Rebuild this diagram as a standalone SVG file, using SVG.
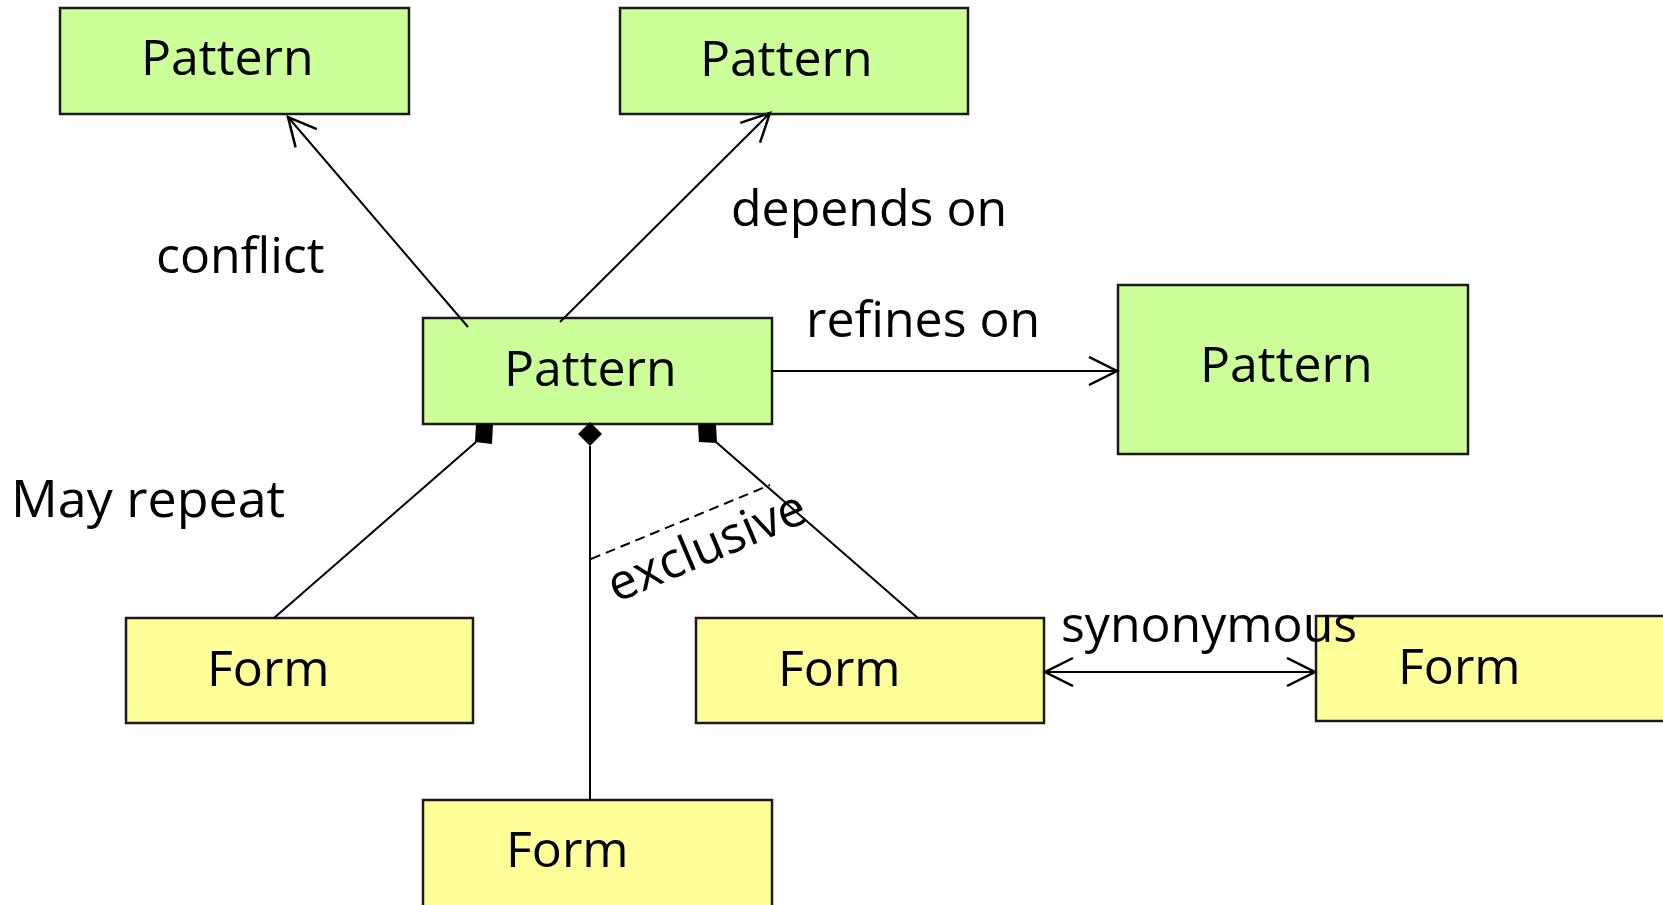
<svg xmlns="http://www.w3.org/2000/svg" width="1663" height="905" viewBox="0 0 1663 905">
<defs>
<style>
.pat{fill:#CCFF99;stroke:#1a1a1a;stroke-width:2.5}
.frm{fill:#FFFF99;stroke:#1a1a1a;stroke-width:2.5}
.t{font-family:"Open Sans","Noto Sans",sans-serif;font-size:50px;fill:#000}
.c{stroke:#000;stroke-width:2;fill:none}
</style>
<marker id="open" viewBox="0 0 32 32" refX="29" refY="15" markerWidth="32" markerHeight="32" markerUnits="userSpaceOnUse" orient="auto-start-reverse">
<path d="M1,1 L29,15 L1,29" fill="none" stroke="#000" stroke-width="2.5"/>
</marker>
</defs>
<rect width="1663" height="905" fill="#fff"/>
<g id="p1"><rect class="pat" x="60" y="8" width="349" height="106"/><text class="t" x="141" y="75">Pattern</text></g>
<g id="p2"><rect class="pat" x="620" y="8" width="348" height="106"/><text class="t" x="700" y="76">Pattern</text></g>
<g id="p3"><rect class="pat" x="423" y="318" width="349" height="106"/><text class="t" x="504" y="386">Pattern</text></g>
<g id="p4"><rect class="pat" x="1118" y="285" width="350" height="169"/><text class="t" x="1200" y="382">Pattern</text></g>
<g id="f1"><rect class="frm" x="126" y="618" width="347" height="105"/><text class="t" x="207" y="686">Form</text></g>
<g id="f2"><rect class="frm" x="696" y="618" width="348" height="105"/><text class="t" x="778" y="686">Form</text></g>
<g id="f3"><rect class="frm" x="1316" y="616" width="370" height="105"/><text class="t" x="1398" y="684">Form</text></g>
<g id="f4"><rect class="frm" x="423" y="800" width="349" height="130"/><text class="t" x="506" y="867">Form</text></g>
<g id="connectors">
<line class="c" x1="468" y1="327" x2="288" y2="117" marker-end="url(#open)"/>
<line class="c" x1="560" y1="322" x2="770" y2="113" marker-end="url(#open)"/>
<line class="c" x1="772" y1="371" x2="1117" y2="371" marker-end="url(#open)"/>
<line class="c" x1="1045" y1="672" x2="1315" y2="672" marker-start="url(#open)" marker-end="url(#open)"/>
<line class="c" x1="590" y1="446" x2="590" y2="800"/>
<polygon points="590,422 602,434 590,446 578,434" fill="#000"/>
<line class="c" x1="476" y1="442" x2="274" y2="618"/>
<polygon points="476,424 493,424 492,444 475,442" fill="#000"/>
<line class="c" x1="716" y1="442" x2="918" y2="618"/>
<polygon points="698,424 716,424 717,443 699,442" fill="#000"/>
<line x1="591" y1="559" x2="770" y2="485" stroke="#000" stroke-width="2" stroke-dasharray="10,6"/>
</g>
<g id="labels">
<text class="t" x="156" y="273">conflict</text>
<text class="t" x="731" y="226">depends on</text>
<text class="t" x="806" y="337">refines on</text>
<text class="t" x="11" y="517" style="font-size:52px">May repeat</text>
<text class="t" x="1061" y="642">synonymous</text>
<text class="t" transform="translate(616,603) rotate(-23)">exclusive</text>
</g>
</svg>
